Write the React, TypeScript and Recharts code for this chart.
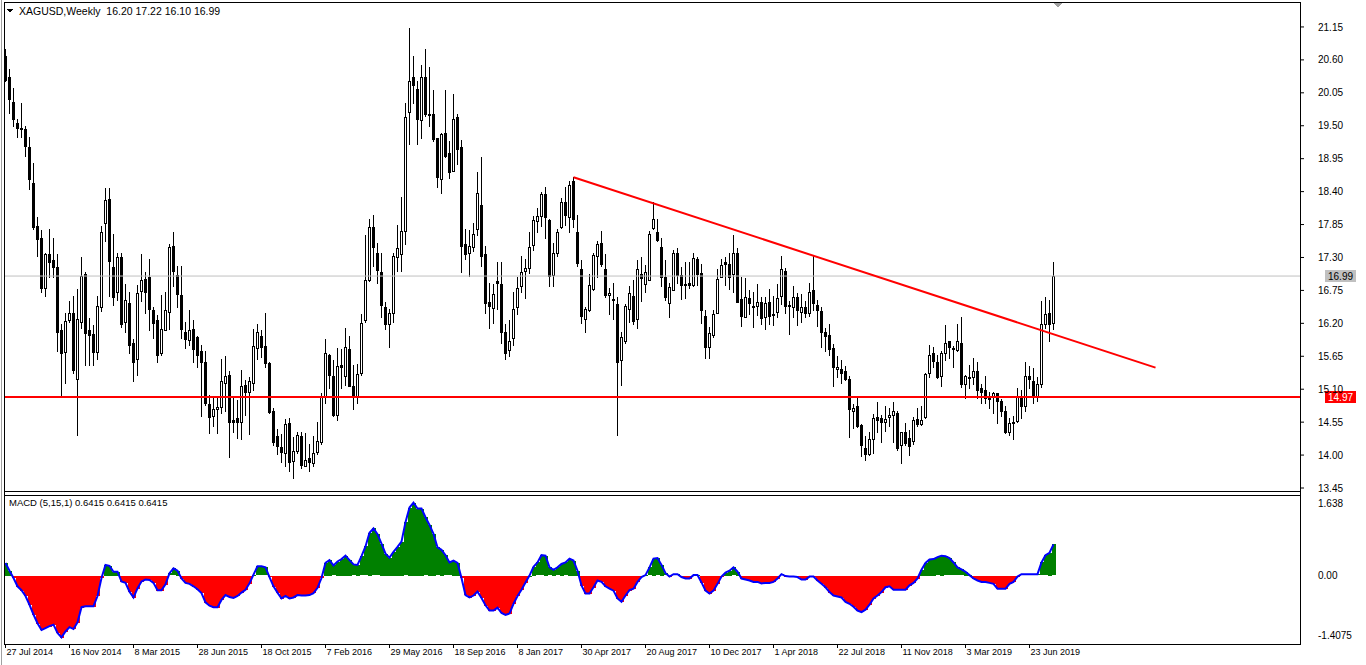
import { Bar, Cell, ComposedChart, Line, ReferenceLine, XAxis, YAxis } from 'recharts'

// weekly XAGUSD candles, one entry per week starting 27 Jul 2014
const opens = [
  20.67, 20.31, 19.90, 19.54, 19.46, 19.44, 19.14, 18.54, 17.83, 17.62,
  16.79, 17.36, 17.26, 17.14, 16.09, 15.73, 16.26, 16.37, 15.27, 16.23,
  17.03, 16.09, 16.02, 15.73, 16.47, 17.88, 18.27, 17.14, 16.72, 17.30,
  16.22, 16.54, 15.87, 15.60, 16.75, 16.94, 16.98, 16.43, 16.26, 15.70,
  16.10, 16.38, 17.49, 17.01, 16.67, 16.06, 15.92, 16.10, 15.97, 15.74,
  15.56, 14.86, 14.65, 14.77, 14.80, 15.21, 15.34, 14.59, 14.62, 14.56,
  15.17, 15.04, 15.21, 15.79, 15.99, 15.82, 15.54, 14.74, 14.32, 14.13,
  14.04, 14.54, 13.89, 14.08, 14.32, 13.81, 13.95, 13.87, 14.05, 14.21,
  14.98, 15.67, 15.32, 14.67, 15.51, 15.32, 15.77, 15.16, 14.99, 15.36,
  16.25, 16.92, 17.81, 17.38, 17.05, 16.48, 16.19, 16.36, 17.30, 17.36,
  17.74, 19.73, 20.32, 20.11, 19.61, 20.32, 19.70, 19.69, 19.29, 18.62,
  19.38, 19.05, 18.75, 19.65, 19.14, 17.53, 17.37, 17.48, 17.77, 18.18,
  17.36, 16.55, 16.45, 16.91, 16.86, 16.06, 15.76, 15.95, 16.48, 16.82,
  17.07, 17.12, 17.51, 17.92, 17.99, 18.36, 17.93, 17.01, 17.38, 17.81,
  18.22, 17.98, 18.57, 17.73, 17.10, 16.27, 16.43, 16.77, 17.32, 17.54,
  17.10, 16.66, 16.60, 16.53, 15.58, 15.90, 16.43, 16.65, 16.26, 17.03,
  16.86, 16.94, 17.79, 17.73, 17.47, 16.97, 16.54, 16.77, 17.37, 17.00,
  16.84, 16.87, 16.84, 17.27, 17.04, 16.33, 15.81, 16.01, 16.38, 16.98,
  17.23, 17.19, 17.03, 17.38, 16.60, 16.31, 16.62, 16.49, 16.49, 16.56,
  16.30, 16.55, 16.36, 16.38, 16.65, 17.07, 16.49, 16.48, 16.64, 16.38,
  16.47, 16.38, 16.75, 16.51, 16.41, 16.06, 16.01, 15.79, 15.44, 15.44,
  15.41, 15.27, 14.73, 14.82, 14.50, 14.12, 14.02, 14.27, 14.64, 14.62,
  14.56, 14.63, 14.67, 14.71, 14.16, 14.39, 14.28, 14.23, 14.60, 14.52,
  14.64, 15.37, 15.70, 15.56, 15.33, 15.71, 15.90, 15.78, 15.75, 15.87,
  15.19, 15.29, 15.31, 15.41, 15.12, 15.09, 14.97, 14.97, 15.03, 14.90,
  14.74, 14.38, 14.55, 14.56, 14.99, 14.82, 15.32, 15.23, 14.98, 15.19,
  16.19, 16.37, 16.20,
]
const highs = [
  20.79, 20.44, 20.13, 19.61, 19.88, 19.49, 19.31, 18.87, 17.97, 17.76,
  17.37, 17.77, 17.62, 17.36, 16.19, 16.37, 16.58, 16.66, 16.77, 17.30,
  17.05, 16.29, 16.18, 16.66, 17.83, 18.46, 18.46, 17.70, 17.38, 17.37,
  16.86, 16.73, 15.94, 16.84, 17.36, 17.05, 17.27, 16.48, 16.34, 16.67,
  16.72, 17.53, 17.73, 17.15, 17.15, 16.23, 16.43, 16.26, 15.99, 15.84,
  15.73, 15.01, 14.99, 14.99, 15.60, 15.66, 15.41, 14.97, 14.92, 15.42,
  15.25, 15.30, 16.10, 16.19, 16.09, 16.37, 15.56, 14.78, 14.43, 14.36,
  14.60, 14.62, 14.31, 14.38, 14.39, 14.37, 14.19, 14.32, 14.56, 15.04,
  15.94, 15.69, 15.58, 15.79, 15.77, 16.12, 15.99, 15.51, 15.52, 16.36,
  17.68, 17.94, 18.01, 17.55, 17.37, 16.55, 16.44, 17.37, 17.84, 18.31,
  19.88, 21.13, 20.67, 20.24, 20.52, 20.78, 20.48, 20.10, 19.30, 19.38,
  20.09, 19.25, 20.03, 19.70, 19.27, 17.77, 17.76, 17.87, 18.73, 18.98,
  17.49, 16.87, 16.86, 17.23, 17.22, 16.19, 16.25, 16.72, 16.98, 17.33,
  17.27, 17.73, 18.00, 18.12, 18.40, 18.47, 17.94, 17.55, 17.77, 18.29,
  18.47, 18.58, 18.64, 18.01, 17.26, 16.47, 17.03, 17.37, 17.58, 17.75,
  17.36, 16.79, 16.88, 16.64, 16.06, 16.53, 16.82, 16.93, 17.25, 17.31,
  17.18, 17.75, 18.22, 17.94, 17.62, 17.25, 16.87, 17.42, 17.45, 17.14,
  17.22, 17.23, 17.37, 17.30, 17.19, 16.43, 16.14, 16.43, 17.10, 17.27,
  17.30, 17.38, 17.68, 17.45, 16.97, 16.95, 16.75, 16.73, 16.86, 16.64,
  16.64, 16.77, 16.66, 16.86, 17.33, 17.12, 16.58, 16.82, 16.71, 16.69,
  16.58, 16.87, 17.32, 16.59, 16.47, 16.12, 16.19, 15.86, 15.66, 15.59,
  15.49, 15.32, 14.86, 14.97, 14.52, 14.32, 14.39, 14.69, 14.88, 14.67,
  14.82, 14.78, 14.88, 14.73, 14.39, 14.53, 14.42, 14.63, 14.78, 14.82,
  15.37, 15.84, 15.80, 15.67, 15.73, 16.18, 15.91, 15.82, 16.19, 16.31,
  15.34, 15.51, 15.62, 15.56, 15.19, 15.32, 15.06, 15.06, 15.04, 14.93,
  14.82, 14.62, 14.65, 15.12, 15.09, 15.55, 15.49, 15.45, 15.31, 16.58,
  16.64, 16.59, 17.22,
]
const lows = [
  20.25, 19.72, 19.50, 19.31, 19.31, 18.99, 18.44, 17.77, 17.32, 16.72,
  16.65, 16.98, 16.98, 15.73, 15.01, 15.21, 16.23, 15.37, 14.34, 16.12,
  15.51, 15.51, 15.51, 15.60, 16.40, 17.58, 16.66, 16.51, 16.59, 16.14,
  16.05, 15.71, 15.23, 15.33, 16.57, 16.38, 16.09, 15.95, 15.55, 15.67,
  16.09, 16.11, 16.82, 16.48, 15.95, 15.79, 15.83, 15.56, 15.47, 14.66,
  14.84, 14.37, 14.49, 14.37, 14.71, 14.73, 13.97, 14.39, 14.28, 14.27,
  14.67, 14.36, 15.09, 15.60, 15.64, 15.47, 14.70, 14.17, 14.02, 13.89,
  13.81, 13.74, 13.62, 14.03, 13.78, 13.81, 13.73, 13.81, 14.01, 14.19,
  14.87, 15.12, 14.66, 14.59, 15.12, 15.17, 15.15, 14.77, 14.87, 15.33,
  16.23, 16.90, 17.15, 16.87, 16.31, 16.10, 15.80, 16.23, 17.08, 17.07,
  17.53, 19.20, 19.88, 19.20, 19.29, 19.66, 19.50, 19.25, 18.47, 18.37,
  18.97, 18.62, 18.74, 18.86, 17.05, 17.27, 16.99, 17.41, 17.68, 17.16,
  16.38, 16.12, 16.20, 16.44, 15.87, 15.60, 15.66, 15.84, 16.36, 16.72,
  16.62, 17.04, 17.43, 17.73, 17.82, 17.62, 16.82, 16.82, 17.32, 17.79,
  17.84, 17.73, 17.81, 17.15, 16.20, 16.05, 16.40, 16.76, 16.98, 17.16,
  16.64, 16.36, 16.27, 14.34, 15.17, 15.88, 16.23, 16.19, 16.12, 16.57,
  16.72, 16.93, 17.77, 17.57, 16.82, 16.59, 16.31, 16.75, 16.87, 16.60,
  16.62, 16.79, 16.82, 16.84, 16.21, 15.62, 15.62, 15.98, 16.37, 16.97,
  16.84, 16.77, 16.72, 16.55, 16.16, 16.30, 16.36, 16.14, 16.34, 16.19,
  16.10, 16.19, 16.18, 16.30, 16.53, 16.38, 16.02, 16.30, 16.18, 16.23,
  16.30, 16.32, 16.43, 16.16, 15.80, 15.73, 15.67, 15.15, 15.30, 15.21,
  15.25, 14.30, 14.45, 14.47, 13.99, 13.91, 14.00, 14.04, 14.39, 14.21,
  14.41, 14.48, 14.21, 14.09, 13.86, 14.16, 14.00, 14.19, 14.49, 14.50,
  14.62, 15.30, 15.47, 15.29, 15.15, 15.58, 15.62, 15.47, 15.73, 15.13,
  14.95, 15.12, 15.19, 14.95, 14.87, 14.87, 14.78, 14.71, 14.54, 14.65,
  14.37, 14.34, 14.27, 14.55, 14.62, 14.74, 15.12, 14.87, 14.91, 15.14,
  16.12, 15.90, 16.10,
]
const closes = [
  20.27, 19.95, 19.61, 19.46, 19.47, 19.16, 18.60, 17.81, 17.62, 16.79,
  17.36, 17.22, 17.15, 16.05, 15.70, 16.24, 16.38, 15.42, 16.27, 16.99,
  16.05, 16.01, 15.72, 16.49, 17.73, 18.26, 17.23, 16.64, 17.30, 16.18,
  16.59, 15.84, 15.55, 16.71, 16.93, 16.72, 16.45, 16.22, 15.67, 16.10,
  16.43, 17.47, 17.07, 16.70, 16.10, 15.95, 16.09, 15.77, 15.67, 15.56,
  14.87, 14.64, 14.77, 14.80, 15.23, 15.32, 14.56, 14.56, 14.56, 15.16,
  15.06, 15.23, 15.82, 16.06, 15.81, 15.54, 14.73, 14.23, 14.16, 14.04,
  14.52, 13.89, 14.06, 14.34, 13.84, 13.91, 13.89, 14.03, 14.23, 14.98,
  15.71, 15.34, 14.67, 15.48, 15.47, 15.80, 15.16, 15.01, 15.36, 16.20,
  16.92, 17.81, 17.47, 17.10, 16.50, 16.19, 16.37, 17.32, 17.45, 17.74,
  19.64, 20.24, 20.18, 19.61, 20.32, 19.71, 19.69, 19.27, 18.64, 19.37,
  18.99, 18.73, 19.62, 19.12, 17.48, 17.36, 17.49, 17.70, 18.37, 17.32,
  16.54, 16.48, 16.69, 16.87, 16.06, 15.71, 15.91, 16.44, 16.79, 17.05,
  17.12, 17.47, 17.93, 18.00, 18.36, 17.97, 16.99, 17.37, 17.73, 18.22,
  18.01, 18.51, 17.93, 17.22, 16.31, 16.44, 16.84, 17.34, 17.52, 17.19,
  16.66, 16.70, 16.61, 15.56, 15.97, 16.49, 16.70, 16.23, 17.10, 16.97,
  17.06, 17.70, 17.94, 17.59, 16.97, 16.64, 16.80, 17.38, 17.01, 16.84,
  16.85, 16.84, 17.29, 17.02, 16.42, 15.81, 16.04, 16.36, 16.94, 17.18,
  17.19, 16.98, 17.38, 16.56, 16.31, 16.64, 16.53, 16.47, 16.56, 16.30,
  16.54, 16.31, 16.34, 16.62, 17.10, 16.48, 16.50, 16.64, 16.43, 16.47,
  16.37, 16.73, 16.54, 16.43, 16.06, 15.99, 15.78, 15.48, 15.47, 15.38,
  15.28, 14.77, 14.78, 14.49, 14.16, 14.02, 14.27, 14.62, 14.59, 14.56,
  14.61, 14.67, 14.73, 14.12, 14.38, 14.21, 14.14, 14.58, 14.52, 14.59,
  15.36, 15.67, 15.56, 15.31, 15.71, 15.87, 15.80, 15.76, 15.90, 15.19,
  15.32, 15.31, 15.41, 15.10, 15.06, 14.95, 14.93, 15.04, 14.90, 14.74,
  14.39, 14.53, 14.56, 14.98, 14.82, 15.32, 15.27, 14.97, 15.19, 16.19,
  16.36, 16.18, 16.99,
]
// MACD (5,15,1) histogram, one value per week
const macdValues = [
  0.26, 0.10, -0.05, -0.22, -0.30, -0.42, -0.60, -0.80, -0.98, -1.12,
  -1.08, -1.04, -1.01, -1.18, -1.27, -1.15, -1.06, -1.10, -0.96, -0.65,
  -0.63, -0.63, -0.63, -0.42, -0.05, 0.22, 0.20, 0.08, 0.08, -0.12,
  -0.15, -0.33, -0.45, -0.26, -0.12, -0.08, -0.09, -0.15, -0.30, -0.30,
  -0.18, 0.05, 0.15, 0.10, -0.06, -0.15, -0.17, -0.22, -0.28, -0.36,
  -0.55, -0.62, -0.65, -0.65, -0.50, -0.40, -0.44, -0.46, -0.42, -0.35,
  -0.29, -0.16, 0.02, 0.19, 0.19, 0.17, -0.03, -0.22, -0.35, -0.47,
  -0.42, -0.47, -0.45, -0.40, -0.41, -0.41, -0.40, -0.36, -0.25, -0.05,
  0.26, 0.32, 0.21, 0.29, 0.34, 0.41, 0.32, 0.23, 0.22, 0.40,
  0.60, 0.88, 0.97, 0.85, 0.66, 0.45, 0.37, 0.49, 0.59, 0.70,
  1.10, 1.40, 1.50, 1.38, 1.38, 1.20, 1.04, 0.86, 0.58, 0.53,
  0.42, 0.27, 0.31, 0.26, -0.05, -0.40, -0.45, -0.41, -0.33, -0.46,
  -0.61, -0.72, -0.72, -0.66, -0.77, -0.81, -0.78, -0.58, -0.42, -0.29,
  -0.14, 0.00, 0.18, 0.27, 0.42, 0.41, 0.17, 0.12, 0.17, 0.24,
  0.27, 0.35, 0.31, 0.10, -0.20, -0.37, -0.37, -0.24, -0.10, -0.13,
  -0.22, -0.27, -0.31, -0.47, -0.54, -0.41, -0.30, -0.27, -0.13, -0.03,
  0.01, 0.17, 0.35, 0.36, 0.22, 0.05, -0.02, 0.03, 0.03, -0.03,
  -0.06, -0.06, 0.01, 0.01, -0.14, -0.31, -0.37, -0.31, -0.17, -0.02,
  0.06, 0.10, 0.17, 0.08, -0.06, -0.08, -0.10, -0.13, -0.13, -0.16,
  -0.15, -0.15, -0.13, -0.06, 0.03, -0.01, -0.02, -0.02, -0.03, -0.08,
  -0.08, -0.02, -0.02, -0.10, -0.17, -0.24, -0.34, -0.41, -0.43, -0.45,
  -0.54, -0.58, -0.64, -0.72, -0.75, -0.70, -0.60, -0.47, -0.41, -0.34,
  -0.24, -0.22, -0.29, -0.29, -0.29, -0.29, -0.20, -0.15, -0.06, 0.12,
  0.26, 0.33, 0.34, 0.38, 0.41, 0.40, 0.36, 0.27, 0.17, 0.13,
  0.08, 0.01, -0.06, -0.10, -0.13, -0.13, -0.15, -0.17, -0.27, -0.27,
  -0.27, -0.17, -0.13, -0.02, 0.03, 0.03, 0.03, 0.03, 0.03, 0.27,
  0.42, 0.47, 0.6415,
]

const priceTicks = [21.15, 20.6, 20.05, 19.5, 18.95, 18.4, 17.85, 17.3, 16.75, 16.2, 15.65, 15.1, 14.55, 14.0, 13.45]
const macdTicks = [1.638, 0, -1.4075]
const dateTicks = [0, 16, 32, 48, 64, 80, 96, 112, 128, 144, 160, 176, 192, 208, 224, 240, 256]
const dateLabels = [
  '27 Jul 2014', '16 Nov 2014', '8 Mar 2015', '28 Jun 2015', '18 Oct 2015', '7 Feb 2016',
  '29 May 2016', '18 Sep 2016', '8 Jan 2017', '30 Apr 2017', '20 Aug 2017', '10 Dec 2017',
  '1 Apr 2018', '22 Jul 2018', '11 Nov 2018', '3 Mar 2019', '23 Jun 2019',
]
const trendStart = { week: 142, price: 18.64 }
const trendEnd = { week: 287.5, price: 15.46 }
const supportLevel = 14.97
const lastPrice = 16.99

const FONT = '"Liberation Sans", Arial, sans-serif'
const X_DOMAIN: [number, number] = [-0.375, 323.625]

const data = closes.map((c, i) => ({
  week: i,
  open: opens[i],
  high: highs[i],
  low: lows[i],
  close: c,
  range: [lows[i], highs[i]],
  macd: macdValues[i],
}))

const Candle = (props: any) => {
  const { x, y, width, height, payload } = props
  if (!payload || height == null) return null
  const top = Math.min(y, y + height)
  const h = Math.abs(height)
  const span = payload.high - payload.low || 1
  const py = (v: number) => top + ((payload.high - v) / span) * h
  const cx = Math.floor(x + width / 2) + 0.5
  const yo = py(payload.open)
  const yc = py(payload.close)
  const bodyTop = Math.round(Math.min(yo, yc))
  const bodyH = Math.round(Math.abs(yo - yc))
  let body
  if (bodyH < 1) {
    body = <line x1={cx - 1.5} x2={cx + 1.5} y1={bodyTop + 0.5} y2={bodyTop + 0.5} stroke='#000' />
  } else if (payload.close > payload.open) {
    body = <rect x={cx - 1} y={bodyTop + 0.5} width={2} height={bodyH} fill='#fff' stroke='#000' />
  } else {
    body = <rect x={cx - 1.5} y={bodyTop} width={3} height={bodyH + 1} fill='#000' />
  }
  return (
    <g shapeRendering='crispEdges'>
      <line x1={cx} x2={cx} y1={Math.round(top)} y2={Math.round(top + h) + 1} stroke='#000' />
      {body}
    </g>
  )
}

// histogram column, snapped to whole pixels so neighbours touch
const MacdColumn = (props: any) => {
  const { x, y, height, fill } = props
  if (height == null) return null
  const top = Math.round(Math.min(y, y + height))
  const h = Math.max(1, Math.round(Math.abs(height)))
  return <rect x={Math.round(x)} y={top} width={4} height={h} fill={fill} shapeRendering='crispEdges' />
}

const PriceTag = (props: any) => {
  const { viewBox, text, bg, fg } = props
  if (!viewBox) return null
  const x = viewBox.x + viewBox.width
  const y = Math.round(viewBox.y)
  return (
    <g>
      <rect x={x + 25} y={y - 6} width={31} height={12} fill={bg} />
      <text x={x + 28} y={y} dy='0.35em' fill={fg} fontSize={10} fontFamily={FONT}>
        {text}
      </text>
    </g>
  )
}

const MacdTick = (props: any) => {
  const { x, y, payload } = props
  const v = payload.value
  const shift = v > 1 ? 7 : v < -1 ? -9 : 0
  const label = v === 0 ? '0.00' : String(v)
  return (
    <text x={x} y={y + shift} dy='0.35em' textAnchor='start' fill='#000' fontSize={10} fontFamily={FONT}>
      {label}
    </text>
  )
}

const DateTick = (props: any) => {
  const { x, y, payload } = props
  const label = dateLabels[dateTicks.indexOf(payload.value)]
  return (
    <text x={x + 1} y={y} dy='0.71em' textAnchor='start' fill='#000' fontSize={9} fontFamily={FONT}>
      {label}
    </text>
  )
}

export default function App() {
  return (
    <div style={{ position: 'absolute', left: 0, top: 0, width: 1366, height: 665, background: '#fff', overflow: 'hidden' }}>
      {/* price panel */}
      <div style={{ position: 'absolute', left: 0, top: 0 }}>
        <ComposedChart width={1366} height={495} data={data} margin={{ top: 3, right: 0, bottom: 4, left: 4 }}>
          <XAxis type='number' dataKey='week' domain={X_DOMAIN} allowDataOverflow hide />
          <YAxis
            orientation='right'
            width={66}
            domain={[13.4, 21.55]}
            allowDataOverflow
            ticks={priceTicks}
            interval={0}
            tickFormatter={(v: number) => v.toFixed(2)}
            axisLine={false}
            tickLine={{ stroke: '#000' }}
            tickSize={4}
            tickMargin={14}
            tick={{ fill: '#000', fontSize: 10, fontFamily: FONT }}
          />
          <ReferenceLine
            y={lastPrice}
            stroke='#c0c0c0'
            strokeWidth={1}
            label={<PriceTag text={lastPrice.toFixed(2)} bg='#c0c0c0' fg='#000' />}
          />
          <ReferenceLine
            y={supportLevel}
            stroke='#ff0000'
            strokeWidth={2}
            label={<PriceTag text={supportLevel.toFixed(2)} bg='#ff0000' fg='#fff' />}
          />
          <Bar dataKey='range' barSize={3} shape={<Candle />} isAnimationActive={false} />
          <ReferenceLine
            segment={[
              { x: trendStart.week, y: trendStart.price },
              { x: trendEnd.week, y: trendEnd.price },
            ]}
            stroke='#ff0000'
            strokeWidth={2}
          />
        </ComposedChart>
      </div>

      {/* MACD panel */}
      <div style={{ position: 'absolute', left: 0, top: 494 }}>
        <ComposedChart width={1366} height={171} data={data} margin={{ top: 2, right: 0, bottom: 0, left: 4 }}>
          <XAxis
            type='number'
            dataKey='week'
            domain={X_DOMAIN}
            allowDataOverflow
            ticks={dateTicks}
            interval={0}
            height={21}
            axisLine={false}
            tickLine={{ stroke: '#000' }}
            tickSize={4}
            tickMargin={1}
            tick={<DateTick />}
          />
          <YAxis
            orientation='right'
            width={66}
            domain={[-1.4075, 1.638]}
            allowDataOverflow
            ticks={macdTicks}
            interval={0}
            axisLine={false}
            tickLine={false}
            tickSize={4}
            tickMargin={14}
            tick={<MacdTick />}
          />
          <Bar dataKey='macd' barSize={4} shape={<MacdColumn />} isAnimationActive={false}>
            {data.map((d) => (
              <Cell key={d.week} fill={d.macd >= 0 ? '#008000' : '#ff0000'} />
            ))}
          </Bar>
          <Line type='linear' dataKey='macd' stroke='#0000ff' strokeWidth={2} dot={false} isAnimationActive={false} />
        </ComposedChart>
      </div>

      {/* window frame and markers */}
      <svg width={1366} height={665} style={{ position: 'absolute', left: 0, top: 0, pointerEvents: 'none' }} shapeRendering='crispEdges'>
        <line x1={1.5} x2={1.5} y1={0} y2={665} stroke='#a0a0a0' />
        <line x1={4.5} x2={4.5} y1={2} y2={645} stroke='#000' />
        <line x1={1300.5} x2={1300.5} y1={2} y2={645} stroke='#000' />
        <line x1={4} x2={1301} y1={2.5} y2={2.5} stroke='#000' />
        <line x1={4} x2={1301} y1={491.5} y2={491.5} stroke='#000' />
        <line x1={4} x2={1301} y1={495.5} y2={495.5} stroke='#000' />
        <line x1={4} x2={1301} y1={644.5} y2={644.5} stroke='#000' />
        <polygon points='7,9 13,9 10,13' fill='#000' />
        <polygon points='1054,3 1062,3 1058,8' fill='#a0a0a0' />
      </svg>

      <div style={{ position: 'absolute', left: 19, top: 5, fontFamily: FONT, fontSize: 10.5, color: '#000', whiteSpace: 'pre' }}>
        XAGUSD,Weekly  16.20 17.22 16.10 16.99
      </div>
      <div style={{ position: 'absolute', left: 9, top: 497, fontFamily: FONT, fontSize: 9.5, color: '#000', whiteSpace: 'pre' }}>
        MACD (5,15,1) 0.6415 0.6415 0.6415
      </div>
    </div>
  )
}
